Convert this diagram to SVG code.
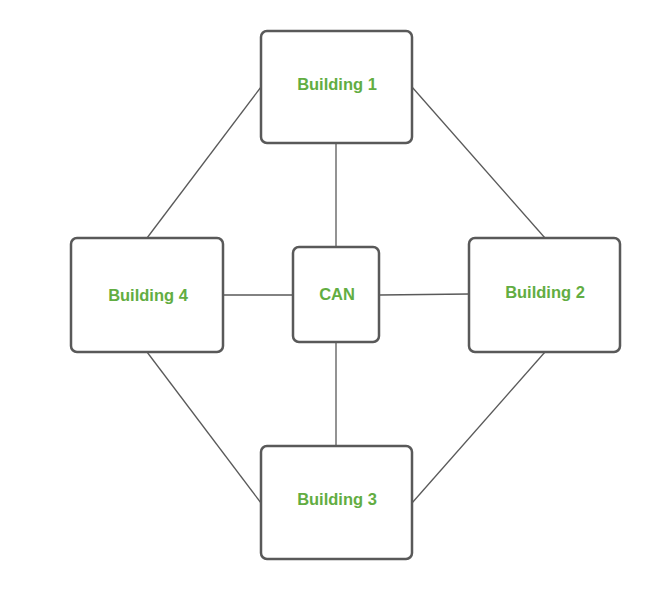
<svg xmlns="http://www.w3.org/2000/svg" width="654" height="589" viewBox="0 0 654 589">
<style>
.box{fill:#fff;stroke:#595959;stroke-width:2.5}
.lbl{font-family:"Liberation Sans",Arial,sans-serif;font-weight:bold;font-size:16.5px;fill:#62ad42;text-anchor:middle;dominant-baseline:central}
.conn line{stroke:#595959;stroke-width:1.3}
</style>
<rect width="654" height="589" fill="#fff"/>
<g class="conn" id="connectors">
<line x1="261" y1="87" x2="147" y2="238"/>
<line x1="412" y1="87" x2="545" y2="238"/>
<line x1="336" y1="143" x2="336" y2="247"/>
<line x1="223" y1="295" x2="293" y2="295"/>
<line x1="380" y1="295" x2="469" y2="294"/>
<line x1="336" y1="342" x2="336" y2="446"/>
<line x1="147" y1="352" x2="261" y2="503"/>
<line x1="545" y1="352" x2="412" y2="503"/>
</g>
<g id="building1"><rect class="box" x="261" y="31" width="151" height="112" rx="6"/><text class="lbl" x="337" y="84">Building 1</text></g>
<g id="building4"><rect class="box" x="71" y="238" width="152" height="114" rx="6"/><text class="lbl" x="148" y="295">Building 4</text></g>
<g id="can"><rect class="box" x="293" y="247" width="86" height="95" rx="6"/><text class="lbl" x="337" y="294">CAN</text></g>
<g id="building2"><rect class="box" x="469" y="238" width="151" height="114" rx="6"/><text class="lbl" x="545" y="292">Building 2</text></g>
<g id="building3"><rect class="box" x="261" y="446" width="151" height="113" rx="6"/><text class="lbl" x="337" y="499">Building 3</text></g>
</svg>
